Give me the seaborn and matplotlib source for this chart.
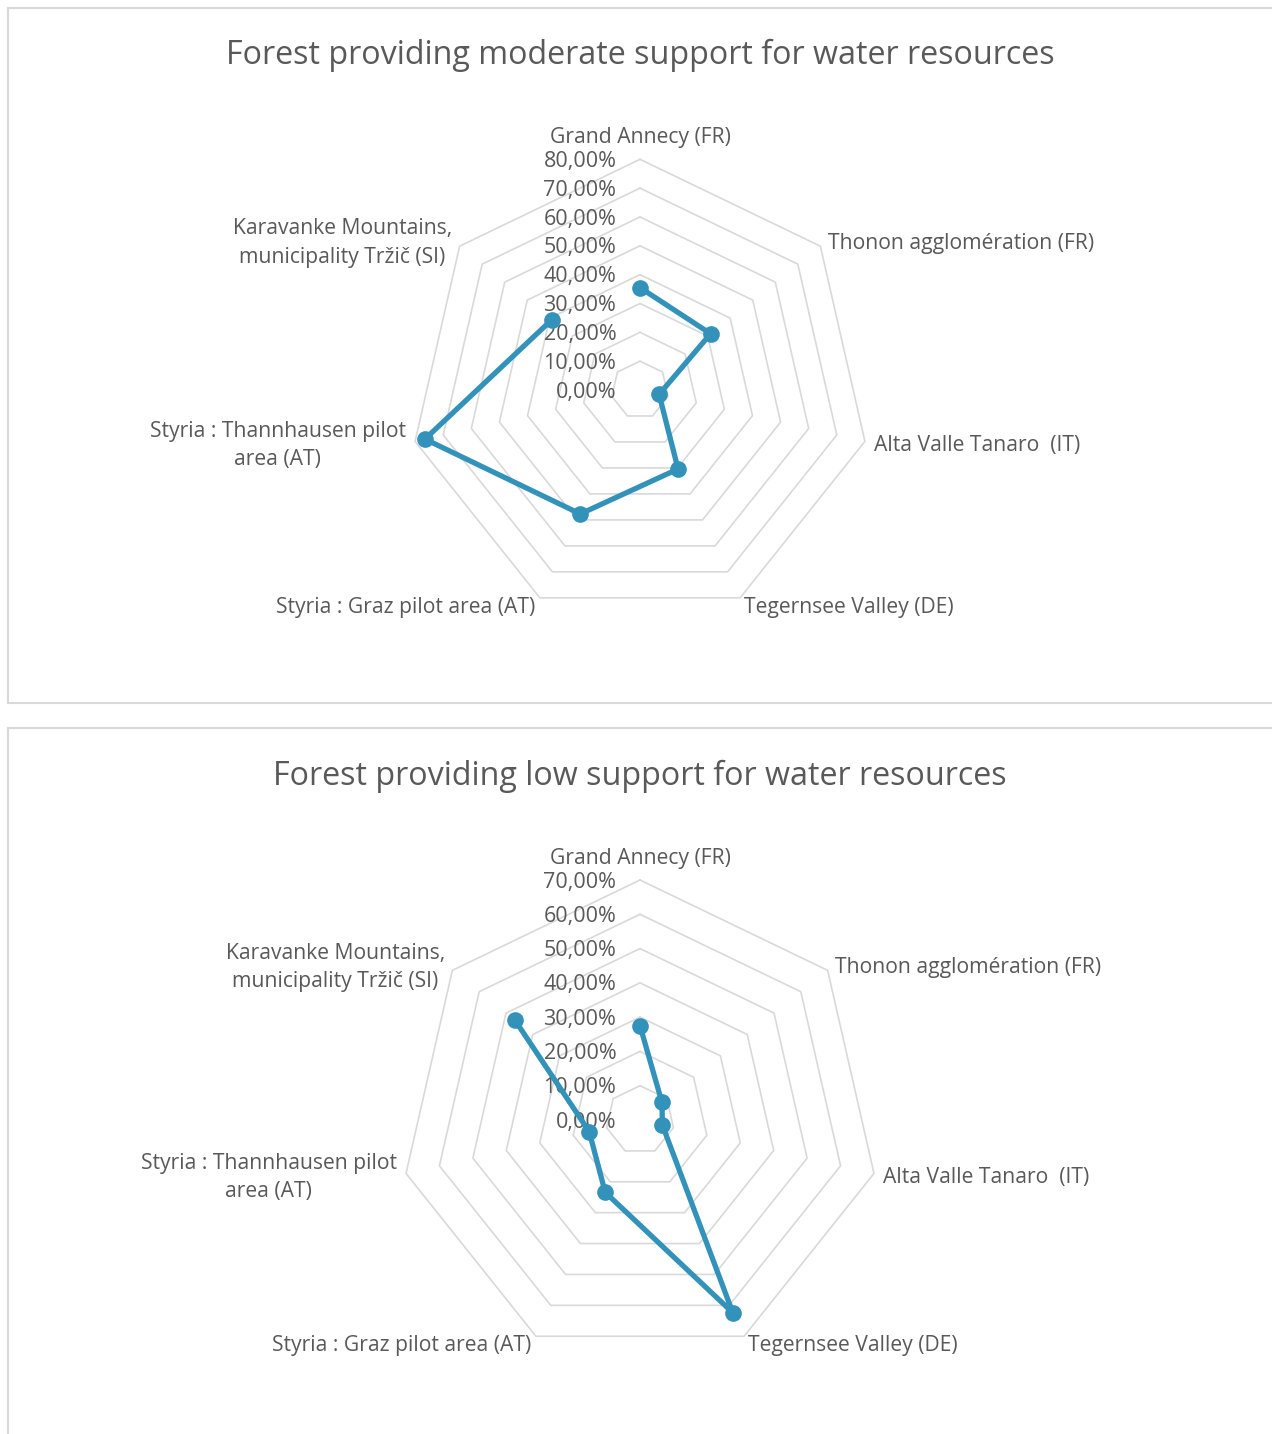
import numpy as np
import matplotlib
matplotlib.use("Agg")
import matplotlib.pyplot as plt
import seaborn as sns
import pandas as pd

# ---------------- data ----------------
categories = [
    "Grand Annecy (FR)",
    "Thonon agglomération (FR)",
    "Alta Valle Tanaro  (IT)",
    "Tegernsee Valley (DE)",
    "Styria : Graz pilot area (AT)",
    "Styria : Thannhausen pilot\narea (AT)",
    "Karavanke Mountains,\nmunicipality Tržič (SI)",
]
moderate_values = [35.5, 31.3, 6.8, 30.4, 47.7, 76.5, 39.1]
low_values = [27.5, 8.2, 6.7, 62.4, 23.4, 15.2, 46.6]
moderate_ticks = [0, 10, 20, 30, 40, 50, 60, 70, 80]
low_ticks = [0, 10, 20, 30, 40, 50, 60, 70]
titles = [
    "Forest providing moderate support for water resources",
    "Forest providing low support for water resources",
]

# ---------------- style ----------------
sns.set_theme(style="white")
plt.rcParams["font.family"] = ["Open Sans", "DejaVu Sans"]

LINE = "#3292BA"
GRID = "#D9D9D9"
TEXT = "#595959"

W, H = 1272, 1434
fig = plt.figure(figsize=(W / 100, H / 100), dpi=100)


def radar(box, center, ring_px, values, ticks, title, title_y):
    """box = (left, top, right, bottom) in px; center=(cx, cy) px."""
    l, t, r, b = box
    cx, cy = center
    rmax = ticks[-1]
    ppu = ring_px / rmax
    ax = fig.add_axes([l / W, 1 - b / H, (r - l) / W, (b - t) / H])
    ax.set_xlim((l - cx) / ppu, (r - cx) / ppu)
    ax.set_ylim(-(b - cy) / ppu, (cy - t) / ppu)
    ax.set_xticks([])
    ax.set_yticks([])
    for s in ax.spines.values():
        s.set_color(GRID)
        s.set_linewidth(1.5)

    n = len(categories)
    theta = np.arange(n) * 2 * np.pi / n
    th_closed = np.append(theta, theta[0])

    # rings
    for tk in ticks[1:]:
        ax.plot(tk * np.sin(th_closed), tk * np.cos(th_closed), color=GRID,
                lw=1.2, zorder=1)
    # radial tick labels
    for tk in ticks:
        ax.annotate(f"{tk:.2f}".replace(".", ",") + "%", (0, tk),
                    xytext=(-17, -1.5), textcoords="offset points",
                    ha="right", va="center", fontsize=15.5, color=TEXT, zorder=2)
    # category labels
    for cat, th in zip(categories, theta):
        x, y = rmax * np.sin(th), rmax * np.cos(th)
        dx, dy = 7 * np.sin(th), 6 * np.cos(th) - 1.5
        if abs(np.sin(th)) < 1e-6:
            ha, va, dy = "center", "bottom", 8
        elif np.sin(th) > 0:
            ha, va = "left", "center"
        else:
            ha, va = "right", "center"
        ax.annotate(cat, (x, y), xytext=(dx, dy), textcoords="offset points",
                    ha=ha, va=va, ma="center", fontsize=15.2, color=TEXT,
                    linespacing=1.45)
    # data
    vals = np.append(values, values[0])
    df = pd.DataFrame({"x": vals * np.sin(th_closed), "y": vals * np.cos(th_closed)})
    sns.lineplot(data=df, x="x", y="y", sort=False, ax=ax, color=LINE,
                 lw=3.8, marker="o", markersize=12, markeredgewidth=0,
                 zorder=3)
    ax.set_xlabel("")
    ax.set_ylabel("")
    fig.text(cx / W, 1 - title_y / H, title, ha="center", va="center",
             fontsize=23.2, color=TEXT)


radar((8, 8, 1290, 703), (640, 390), 230.7, moderate_values, moderate_ticks, titles[0], 55)
radar((8, 728, 1290, 1450), (640, 1120), 240.0, low_values, low_ticks, titles[1], 776)

fig.savefig("out.png", dpi=100, facecolor="white")
